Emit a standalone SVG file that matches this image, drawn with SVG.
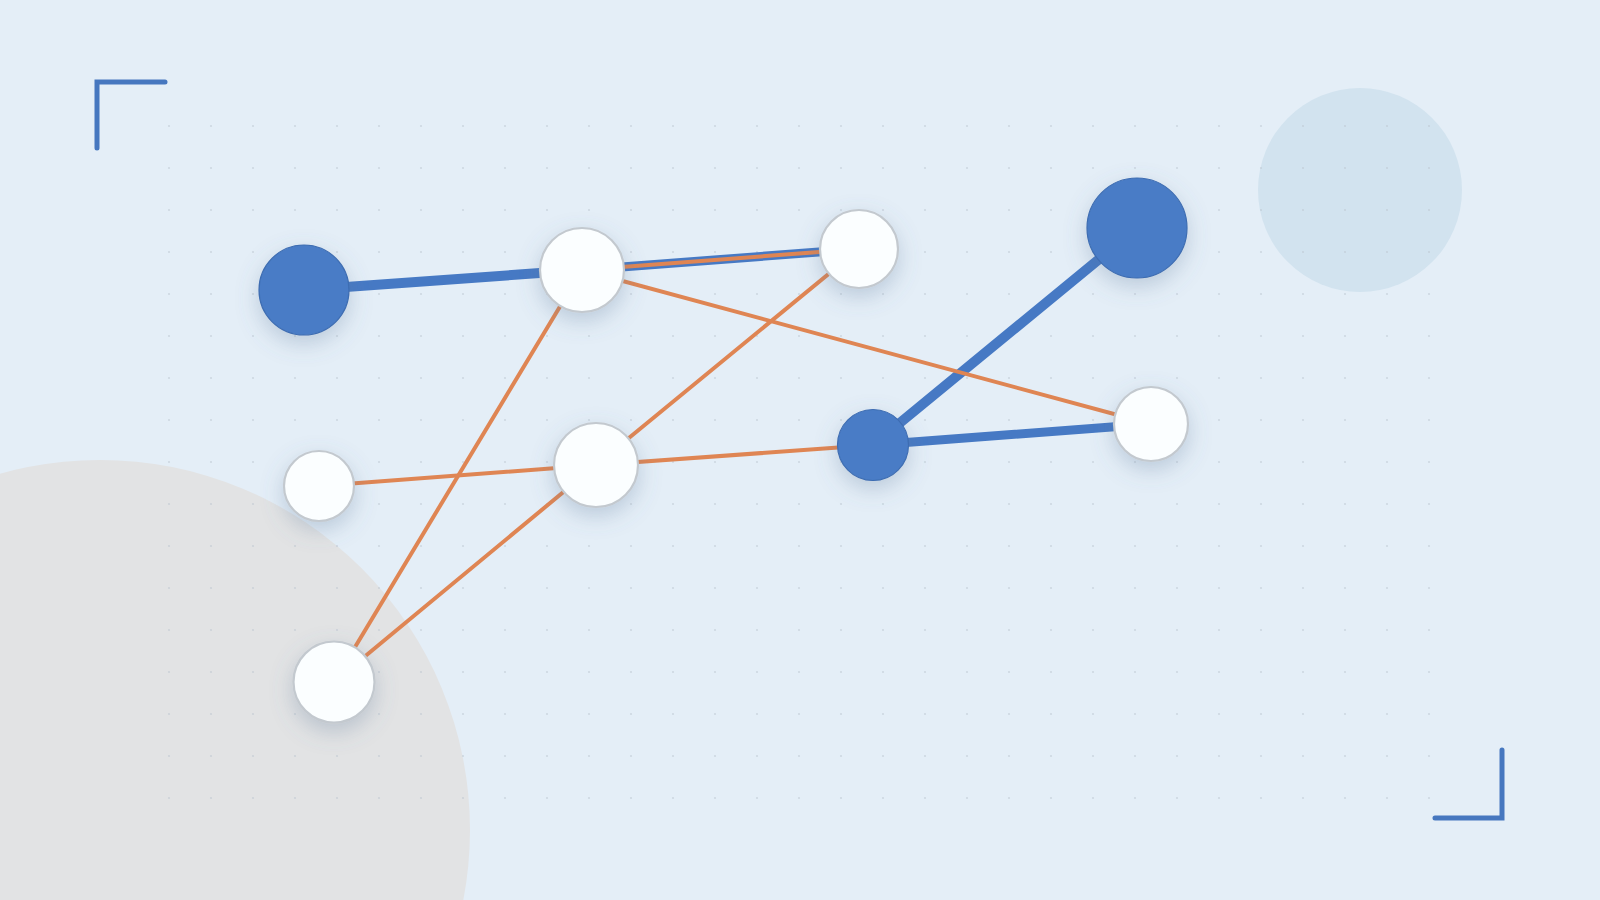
<svg xmlns="http://www.w3.org/2000/svg" width="1600" height="900" viewBox="0 0 1600 900">
  <defs>
    <pattern id="dots" patternUnits="userSpaceOnUse" x="148" y="105" width="42" height="42">
      <circle cx="21" cy="21" r="1.1" fill="#b9c4ce" fill-opacity="0.55"/>
    </pattern>
    <filter id="shadow" x="-60%" y="-60%" width="220%" height="220%">
      <feDropShadow dx="0" dy="8" stdDeviation="11" flood-color="#5b7896" flood-opacity="0.3"/>
    </filter>
    <style>
      .bracket { fill: none; stroke: #4677bf; stroke-width: 5; stroke-linecap: round; stroke-linejoin: miter; }
      .blue { stroke: #4679c4; stroke-linecap: round; fill: none; }
      .orange { stroke: #df8553; stroke-width: 4; stroke-linecap: round; fill: none; }
      .wnode { fill: #fbfeff; stroke: #c3c9cf; stroke-width: 2.2; filter: url(#shadow); }
      .bnode { fill: #487cc6; stroke: #3e6db2; stroke-width: 1.2; filter: url(#shadow); }
    </style>
  </defs>

  <rect x="0" y="0" width="1600" height="900" fill="#e4eef7"/>
  <g id="decor">
    <circle cx="100" cy="830" r="370" fill="#e2e3e4"/>
    <circle cx="1360" cy="190" r="102" fill="#d2e3ef"/>
    <rect x="148" y="105" width="1302" height="714" fill="url(#dots)"/>
    <path class="bracket" d="M97,148 V82 H165"/>
    <path class="bracket" d="M1435,818 H1502 V750"/>
  </g>

  <g id="connectors">
    <line class="blue" x1="304" y1="290" x2="582" y2="270" stroke-width="10"/>
    <line class="blue" x1="582" y1="270" x2="859" y2="249" stroke-width="9"/>
    <line class="orange" x1="582" y1="270" x2="859" y2="249"/>
    <line class="blue" x1="1137" y1="228" x2="873" y2="445" stroke-width="10"/>
    <line class="blue" x1="873" y1="445" x2="1151" y2="424" stroke-width="9"/>
    <line class="orange" x1="582" y1="270" x2="1151" y2="424"/>
    <line class="orange" x1="582" y1="270" x2="334" y2="682"/>
    <line class="orange" x1="859" y1="249" x2="596" y2="465"/>
    <line class="orange" x1="319" y1="486" x2="596" y2="465"/>
    <line class="orange" x1="596" y1="465" x2="873" y2="445"/>
    <line class="orange" x1="596" y1="465" x2="334" y2="682"/>
  </g>

  <g id="node-a"><circle class="bnode" cx="304" cy="290" r="45"/></g>
  <g id="node-b"><circle class="wnode" cx="582" cy="270" r="42"/></g>
  <g id="node-c"><circle class="wnode" cx="859" cy="249" r="39"/></g>
  <g id="node-d"><circle class="bnode" cx="1137" cy="228" r="50"/></g>
  <g id="node-e"><circle class="wnode" cx="319" cy="486" r="35"/></g>
  <g id="node-f"><circle class="wnode" cx="596" cy="465" r="42"/></g>
  <g id="node-g"><circle class="bnode" cx="873" cy="445" r="35.5"/></g>
  <g id="node-h"><circle class="wnode" cx="1151" cy="424" r="37"/></g>
  <g id="node-i"><circle class="wnode" cx="334" cy="682" r="40.5"/></g>
</svg>
